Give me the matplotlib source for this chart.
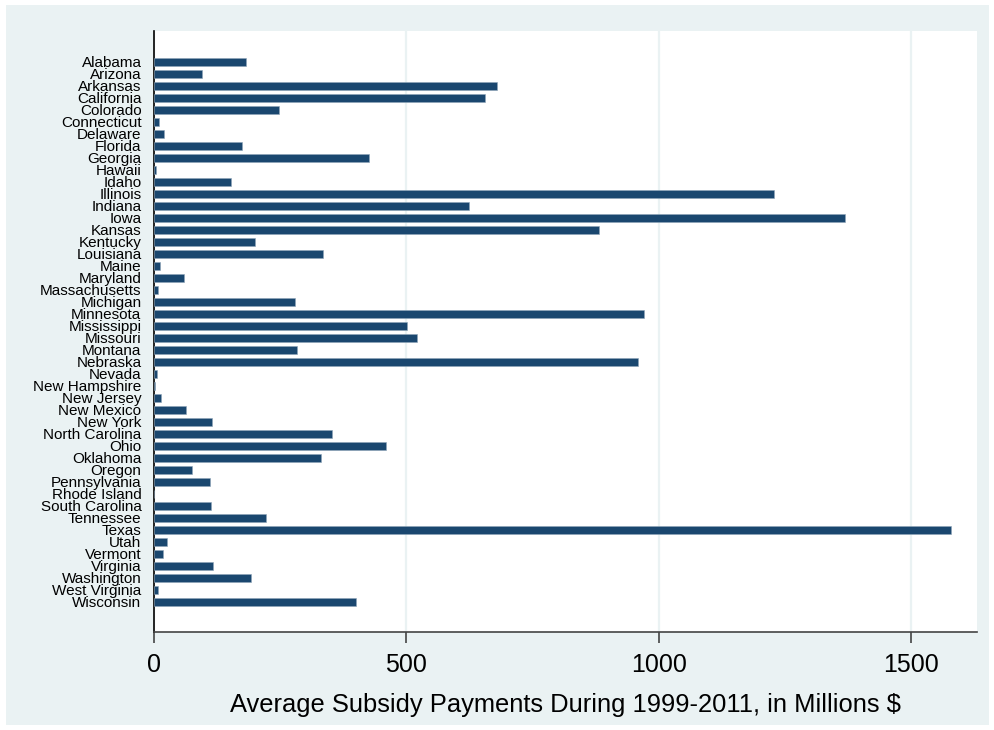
import matplotlib
matplotlib.use("Agg")
import matplotlib.pyplot as plt
from matplotlib.patches import Rectangle

# States (top to bottom) and average subsidy payments 1999-2011, millions $
states = ["Alabama", "Arizona", "Arkansas", "California", "Colorado", "Connecticut",
          "Delaware", "Florida", "Georgia", "Hawaii", "Idaho", "Illinois", "Indiana",
          "Iowa", "Kansas", "Kentucky", "Louisiana", "Maine", "Maryland",
          "Massachusetts", "Michigan", "Minnesota", "Mississippi", "Missouri",
          "Montana", "Nebraska", "Nevada", "New Hampshire", "New Jersey",
          "New Mexico", "New York", "North Carolina", "Ohio", "Oklahoma", "Oregon",
          "Pennsylvania", "Rhode Island", "South Carolina", "Tennessee", "Texas",
          "Utah", "Vermont", "Virginia", "Washington", "West Virginia", "Wisconsin"]
payments = [183, 96, 679, 656, 247, 9, 19, 175, 427, 4, 153, 1228, 625,
            1370, 882, 201, 335, 11, 59, 8, 280, 972, 501, 522,
            283, 959, 6, 2, 14, 63, 114, 352, 460, 330, 76,
            110, 0.5, 113, 221, 1580, 26, 18, 116, 192, 7, 401]
xticks = [0, 500, 1000, 1500]

bar_color = "#1a476f"
bg_color = "#eaf2f3"

plt.rcParams["font.family"] = ["Liberation Sans", "DejaVu Sans"]

fig = plt.figure(figsize=(9.95, 7.3), dpi=100)
fig.patch.set_facecolor("white")
# light graph region behind everything
fig.add_artist(Rectangle((6 / 995, 5 / 730), 983 / 995, 720 / 730,
                         transform=fig.transFigure, facecolor=bg_color,
                         edgecolor="none", zorder=-10))

ax = fig.add_axes([154 / 995, 1 - 632 / 730, 823 / 995, 601 / 730])
ax.set_facecolor("white")

ypos = list(range(len(states)))
ax.barh(ypos, payments, height=0.64, color=bar_color,
        edgecolor="#8fa5b8", linewidth=0.4, zorder=3)

ax.set_xlim(0, 1631)
ax.set_ylim(len(states) - 1 + 2.5, -2.58)

ax.set_yticks(ypos)
ax.set_yticklabels(states, fontsize=11)
ax.tick_params(axis="y", length=0, pad=9)

ax.set_xticks(xticks)
ax.set_xticklabels([str(t) for t in xticks], fontsize=18)
ax.tick_params(axis="x", length=8, width=1.2, color="#444444", pad=7)

ax.grid(axis="x", color=bg_color, linewidth=1.6, zorder=0)
ax.set_axisbelow(True)

for side in ["top", "right"]:
    ax.spines[side].set_visible(False)
ax.spines["left"].set_color("black")
ax.spines["left"].set_linewidth(1.2)
ax.spines["bottom"].set_color("#444444")
ax.spines["bottom"].set_linewidth(1.2)

ax.set_xlabel("Average Subsidy Payments During 1999-2011, in Millions $", fontsize=18.4)
ax.xaxis.set_label_coords(0.5, -0.1215)
ax.xaxis.label.set_va("center")

fig.savefig("out.png", dpi=100, facecolor=fig.get_facecolor())
